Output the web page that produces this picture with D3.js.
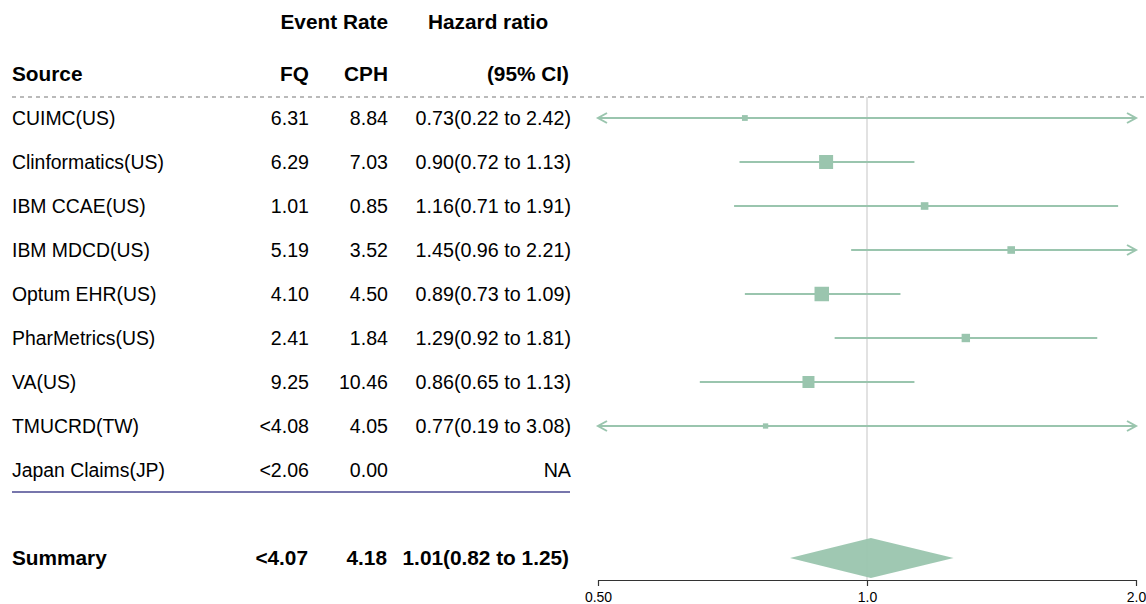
<!DOCTYPE html>
<html><head><meta charset="utf-8">
<script src="https://cdn.jsdelivr.net/npm/d3@7"></script>
<style>body{margin:0;background:#fff}svg{display:block}text{font-family:"Liberation Sans",Arial,Helvetica,sans-serif}</style>
</head><body>
<svg id="c" width="1146" height="604"></svg>
<script>
const sources = ["CUIMC(US)","Clinformatics(US)","IBM CCAE(US)","IBM MDCD(US)","Optum EHR(US)","PharMetrics(US)","VA(US)","TMUCRD(TW)","Japan Claims(JP)"];
const fq = ["6.31","6.29","1.01","5.19","4.10","2.41","9.25","<4.08","<2.06"];
const cph = ["8.84","7.03","0.85","3.52","4.50","1.84","10.46","4.05","0.00"];
const hr = [0.73,0.90,1.16,1.45,0.89,1.29,0.86,0.77,null];
const lower = [0.22,0.72,0.71,0.96,0.73,0.92,0.65,0.19,null];
const upper = [2.42,1.13,1.91,2.21,1.09,1.81,1.13,3.08,null];
const weights = [5.8,14.0,7.6,7.6,14.5,8.4,12.0,5.3,null];
const summary = {label:"Summary", fq:"<4.07", cph:"4.18", hr:1.01, lower:0.82, upper:1.25};
const xTicks = [0.5,1.0,2.0];
const xTickLabels = ["0.50","1.0","2.0"];

const svg = d3.select("#c");
const green = "#9ac5ae";
const fsLabel = 19.4, fsNum = 19.6, fsHR = 19.7, fsBold = 20.8;

const x = d3.scaleLog().domain([0.5,2]).range([598,1136]);
const rowY = d3.scalePoint().domain(d3.range(sources.length)).range([118,470]);
const summaryY = 558;
const size = d3.scaleLinear().domain([0,d3.max(weights)]).range([0,14.5]);

const fmt = v => v.toFixed(2);
const hrText = i => hr[i]==null ? "NA" : `${fmt(hr[i])}(${fmt(lower[i])} to ${fmt(upper[i])})`;

function txt(g, xx, y, s, anchor, fs){
  return g.append("text").attr("x",xx).attr("y",y).attr("dy","0.35em")
    .attr("text-anchor",anchor).attr("font-size",fs).text(s);
}

// headers
const hdr = svg.append("g").attr("font-weight","bold").attr("fill","#000");
txt(hdr,388,22,"Event Rate","end",fsBold);
txt(hdr,428,22,"Hazard ratio","start",fsBold);
txt(hdr,12,74,"Source","start",fsBold);
txt(hdr,309,74,"FQ","end",fsBold);
txt(hdr,388,74,"CPH","end",fsBold);
txt(hdr,569,74,"(95% CI)","end",fsBold);

// dashed line
svg.append("line").attr("x1",12).attr("x2",1146).attr("y1",97).attr("y2",97)
  .attr("stroke","#777").attr("stroke-width",1.2).attr("stroke-dasharray","4,4");

// reference line
svg.append("line").attr("x1",x(1)).attr("x2",x(1)).attr("y1",97).attr("y2",580)
  .attr("stroke","#d9d9d9").attr("stroke-width",1.5);

// table rows
const rows = svg.append("g").attr("fill","#000");
sources.forEach((s,i)=>{
  const y = rowY(i);
  txt(rows,12,y,s,"start",fsLabel);
  txt(rows,309,y,fq[i],"end",fsNum);
  txt(rows,388,y,cph[i],"end",fsNum);
  txt(rows,571,y,hrText(i),"end",fsHR);
});

// solid line under last row
svg.append("line").attr("x1",12).attr("x2",570).attr("y1",492).attr("y2",492)
  .attr("stroke","#4a4891").attr("stroke-width",1.5);

// summary text
const sm = svg.append("g").attr("font-weight","bold");
txt(sm,12,summaryY,summary.label,"start",fsBold);
txt(sm,308,summaryY,summary.fq,"end",fsBold);
txt(sm,387,summaryY,summary.cph,"end",fsBold);
txt(sm,569,summaryY,`${fmt(summary.hr)}(${fmt(summary.lower)} to ${fmt(summary.upper)})`,"end",fsBold);

// CI lines
const [dmin,dmax] = x.domain();
const ci = svg.append("g").attr("stroke",green).attr("stroke-width",2).attr("fill","none");
sources.forEach((s,i)=>{
  if(hr[i]==null) return;
  const y = rowY(i);
  const lo = Math.max(lower[i],dmin), hi = Math.min(upper[i],dmax);
  ci.append("line").attr("x1",x(lo)).attr("x2",x(hi)).attr("y1",y).attr("y2",y);
  if(lower[i]<dmin){
    const ax = x(dmin);
    ci.append("path").attr("d",`M${ax+9},${y-5}L${ax},${y}L${ax+9},${y+5}`);
  }
  if(upper[i]>dmax){
    const ax = x(dmax);
    ci.append("path").attr("d",`M${ax-9},${y-5}L${ax},${y}L${ax-9},${y+5}`);
  }
  const b = size(weights[i]);
  svg.append("rect").attr("x",x(hr[i])-b/2).attr("y",y-b/2).attr("width",b).attr("height",b)
    .attr("fill",green);
});

// summary diamond
svg.append("path").attr("fill",green).attr("fill-opacity",0.95)
  .attr("d",`M${x(summary.lower)},${summaryY}L${x(summary.hr)},${summaryY-20}L${x(summary.upper)},${summaryY}L${x(summary.hr)},${summaryY+20}Z`);

// axis
const axis = d3.axisBottom(x).tickValues(xTicks).tickFormat((d,i)=>xTickLabels[i]).tickSize(6).tickSizeOuter(0);
const ag = svg.append("g").attr("transform","translate(0,580)").call(axis);
ag.select(".domain").attr("stroke","#333").attr("stroke-width",1.2);
ag.selectAll(".tick line").attr("stroke","#333").attr("stroke-width",1.2);
ag.selectAll(".tick text").attr("font-size",14).attr("fill","#000").attr("font-family","'Liberation Sans',Arial,sans-serif").attr("dy","0.95em");
</script>
</body></html>
